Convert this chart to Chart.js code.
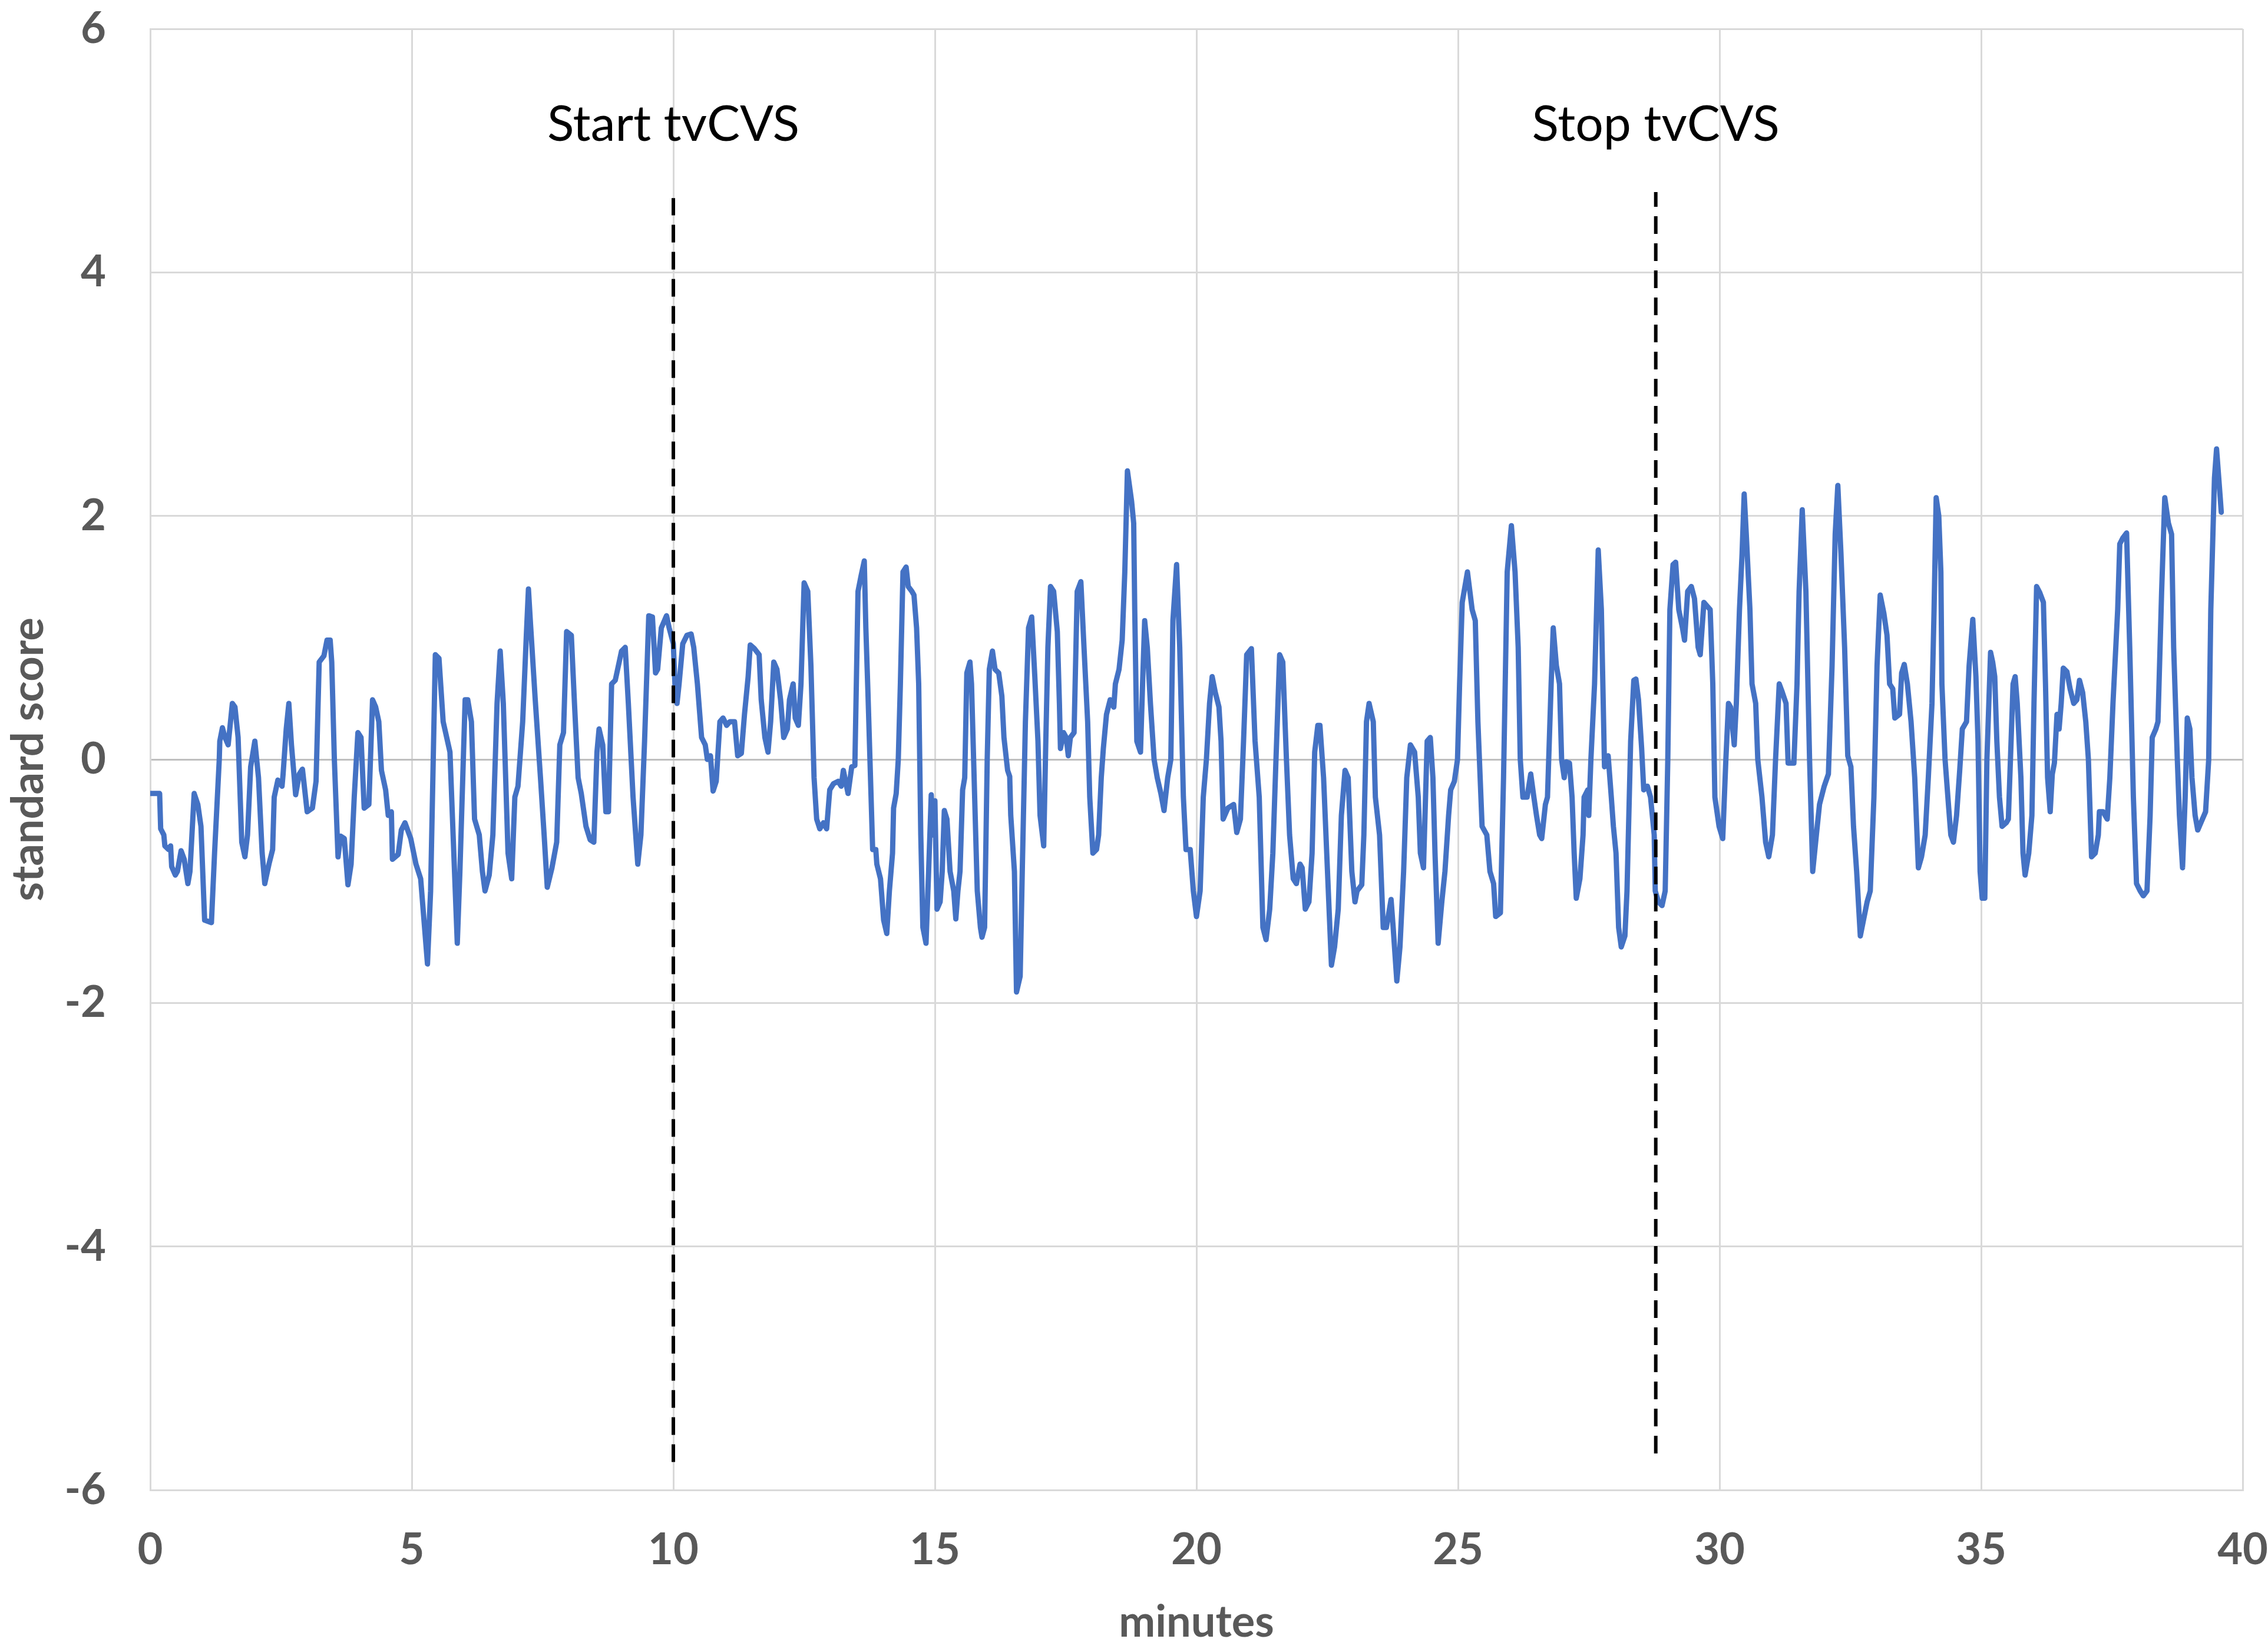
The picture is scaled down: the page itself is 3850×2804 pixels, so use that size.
<!DOCTYPE html>
<html>
<head>
<meta charset="utf-8">
<style>
  html, body { margin: 0; padding: 0; background: #ffffff; }
  #c { display: block; }
</style>
<script src="https://cdn.jsdelivr.net/npm/chart.js@4.4.1/dist/chart.umd.min.js"></script>
</head>
<body>
<canvas id="c" width="3850" height="2804" style="width:3850px;height:2804px"></canvas>
<script>
// ---- data ----
const minutes = [
0.00,0.18,0.20,0.26,0.28,0.35,0.39,0.41,0.48,0.52,0.59,0.65,0.72,0.76,0.84,0.91,0.97,1.04,1.17,1.23,
1.32,1.33,1.38,1.43,1.49,1.57,1.62,1.68,1.75,1.81,1.86,1.92,2.00,2.07,2.14,2.19,2.27,2.34,2.37,2.44,
2.52,2.54,2.60,2.65,2.70,2.78,2.85,2.91,3.00,3.10,3.17,3.23,3.32,3.38,3.44,3.47,3.52,3.59,3.64,3.71,
3.78,3.84,3.90,3.97,4.03,4.09,4.18,4.25,4.31,4.37,4.42,4.50,4.55,4.61,4.63,4.74,4.80,4.87,4.98,5.08,
5.17,5.30,5.36,5.45,5.52,5.60,5.73,5.79,5.87,5.92,6.02,6.07,6.14,6.20,6.29,6.35,6.40,6.48,6.55,6.63,
6.69,6.75,6.84,6.91,6.97,7.03,7.12,7.19,7.23,7.27,7.36,7.46,7.53,7.59,7.68,7.77,7.83,7.90,7.96,8.05,
8.11,8.18,8.24,8.33,8.41,8.48,8.54,8.58,8.65,8.71,8.76,8.82,8.89,8.95,9.01,9.08,9.14,9.23,9.32,9.38,
9.45,9.53,9.60,9.66,9.70,9.77,9.87,9.92,10.00,10.03,10.07,10.11,10.18,10.26,10.34,10.39,10.46,10.54,10.61,10.65,
10.71,10.76,10.82,10.89,10.95,11.02,11.08,11.17,11.23,11.30,11.36,11.43,11.47,11.55,11.64,11.68,11.75,11.81,11.86,11.92,
11.98,12.05,12.11,12.18,12.22,12.29,12.33,12.39,12.44,12.50,12.57,12.63,12.69,12.74,12.80,12.87,12.93,12.99,13.06,13.15,
13.21,13.25,13.34,13.41,13.47,13.53,13.59,13.65,13.68,13.72,13.78,13.81,13.87,13.89,13.96,14.02,14.08,14.13,14.19,14.21,
14.26,14.30,14.34,14.39,14.45,14.49,14.56,14.60,14.65,14.69,14.73,14.77,14.83,14.88,14.93,14.97,15.00,15.04,15.10,15.14,
15.18,15.23,15.29,15.36,15.40,15.44,15.48,15.53,15.57,15.61,15.67,15.70,15.76,15.81,15.87,15.90,15.95,16.00,16.04,16.10,
16.15,16.22,16.28,16.32,16.39,16.43,16.45,16.52,16.56,16.63,16.67,16.73,16.79,16.85,16.91,16.97,17.01,17.08,17.12,17.16,
17.21,17.27,17.34,17.38,17.40,17.46,17.51,17.55,17.59,17.66,17.72,17.79,17.85,17.92,17.96,18.02,18.09,18.13,18.18,18.22,
18.28,18.35,18.42,18.45,18.52,18.58,18.63,18.68,18.76,18.80,18.82,18.86,18.93,18.97,19.01,19.06,19.12,19.19,19.25,19.32,
19.38,19.45,19.51,19.55,19.62,19.68,19.75,19.80,19.88,19.94,20.00,20.07,20.13,20.19,20.25,20.30,20.36,20.43,20.47,20.51,
20.60,20.71,20.77,20.84,20.90,20.96,21.05,21.12,21.20,21.27,21.33,21.40,21.46,21.52,21.59,21.65,21.72,21.78,21.85,21.91,
21.98,22.02,22.08,22.15,22.21,22.26,22.32,22.36,22.43,22.49,22.58,22.64,22.71,22.77,22.84,22.90,22.97,23.03,23.07,23.16,
23.20,23.25,23.30,23.38,23.42,23.50,23.57,23.63,23.72,23.76,23.83,23.89,23.96,24.02,24.09,24.17,24.24,24.28,24.34,24.41,
24.47,24.52,24.56,24.62,24.69,24.75,24.82,24.86,24.93,24.99,25.03,25.08,25.18,25.27,25.33,25.38,25.46,25.55,25.61,25.68,
25.72,25.81,25.87,25.94,26.02,26.09,26.15,26.19,26.24,26.32,26.39,26.45,26.50,26.56,26.60,26.67,26.71,26.78,26.82,26.88,
26.94,26.98,27.03,27.07,27.13,27.18,27.22,27.26,27.33,27.39,27.41,27.48,27.50,27.54,27.61,27.68,27.74,27.80,27.87,27.93,
27.97,28.02,28.07,28.12,28.19,28.23,28.30,28.36,28.40,28.45,28.51,28.55,28.62,28.68,28.75,28.77,28.83,28.90,28.96,29.01,
29.05,29.11,29.16,29.22,29.29,29.33,29.39,29.46,29.52,29.59,29.63,29.70,29.76,29.82,29.87,29.91,29.99,30.06,30.12,30.17,
30.21,30.28,30.32,30.38,30.43,30.47,30.51,30.58,30.62,30.69,30.73,30.81,30.88,30.94,31.01,31.07,31.14,31.20,31.27,31.31,
31.42,31.48,31.52,31.58,31.65,31.72,31.78,31.85,31.91,32.00,32.08,32.15,32.21,32.26,32.32,32.39,32.45,32.51,32.56,32.62,
32.69,32.75,32.82,32.88,32.95,33.01,33.07,33.14,33.20,33.25,33.31,33.35,33.44,33.48,33.53,33.59,33.66,33.73,33.80,33.86,
33.93,33.99,34.06,34.10,34.14,34.19,34.23,34.25,34.31,34.38,34.42,34.47,34.53,34.59,34.64,34.72,34.77,34.84,34.90,34.94,
34.98,35.02,35.07,35.11,35.18,35.22,35.26,35.30,35.35,35.40,35.48,35.52,35.56,35.61,35.65,35.69,35.76,35.80,35.84,35.91,
35.97,36.01,36.06,36.12,36.19,36.23,36.27,36.32,36.36,36.40,36.45,36.49,36.53,36.57,36.64,36.70,36.77,36.83,36.88,36.94,
37.00,37.05,37.11,37.18,37.24,37.26,37.33,37.41,37.46,37.52,37.61,37.65,37.71,37.78,37.84,37.91,37.97,38.04,38.10,38.17,
38.23,38.27,38.34,38.38,38.45,38.51,38.58,38.64,38.68,38.75,38.79,38.85,38.90,38.94,38.99,39.03,39.09,39.14,39.20,39.29,
39.35,39.39,39.46,39.50,39.57,39.59
];
const scores = [
-0.28,-0.28,-0.57,-0.62,-0.71,-0.74,-0.71,-0.88,-0.95,-0.92,-0.75,-0.82,-1.02,-0.92,-0.28,-0.37,-0.55,-1.32,-1.34,-0.77,
0.00,0.15,0.26,0.18,0.12,0.46,0.43,0.18,-0.68,-0.80,-0.62,-0.06,0.15,-0.15,-0.77,-1.02,-0.86,-0.74,-0.31,-0.17,
-0.22,-0.12,0.25,0.46,0.12,-0.29,-0.12,-0.08,-0.43,-0.40,-0.18,0.80,0.85,0.98,0.98,0.80,0.00,-0.80,-0.63,-0.65,
-1.03,-0.86,-0.31,0.22,0.18,-0.40,-0.37,0.49,0.43,0.31,-0.09,-0.25,-0.46,-0.43,-0.82,-0.78,-0.58,-0.52,-0.65,-0.86,
-0.98,-1.68,-1.08,0.86,0.83,0.31,0.06,-0.62,-1.51,-0.92,0.49,0.49,0.31,-0.49,-0.62,-0.92,-1.08,-0.95,-0.62,0.46,
0.89,0.46,-0.77,-0.98,-0.31,-0.22,0.31,1.02,1.40,1.11,0.49,-0.15,-0.62,-1.05,-0.89,-0.68,0.12,0.22,1.05,1.02,
0.46,-0.15,-0.28,-0.55,-0.66,-0.68,0.06,0.25,0.12,-0.43,-0.43,0.62,0.65,0.77,0.89,0.92,0.46,-0.31,-0.86,-0.62,
0.15,1.18,1.17,0.71,0.74,1.08,1.18,1.08,0.95,0.62,0.46,0.62,0.95,1.02,1.03,0.92,0.62,0.18,0.12,0.00,
0.03,-0.26,-0.18,0.31,0.34,0.28,0.31,0.31,0.03,0.05,0.37,0.68,0.94,0.91,0.86,0.49,0.18,0.06,0.31,0.80,
0.74,0.49,0.18,0.25,0.49,0.62,0.34,0.28,0.62,1.45,1.38,0.77,-0.15,-0.49,-0.57,-0.52,-0.57,-0.25,-0.20,-0.18,
-0.22,-0.09,-0.28,-0.06,-0.05,1.38,1.51,1.63,1.08,0.55,-0.31,-0.74,-0.74,-0.86,-0.98,-1.32,-1.43,-1.08,-0.77,-0.40,
-0.28,0.00,0.62,1.54,1.58,1.42,1.38,1.35,1.08,0.62,-0.62,-1.38,-1.51,-0.92,-0.29,-0.62,-0.34,-1.23,-1.17,-0.92,
-0.42,-0.49,-0.92,-1.08,-1.31,-1.08,-0.92,-0.25,-0.15,0.71,0.80,0.62,-0.31,-1.08,-1.38,-1.46,-1.38,0.00,0.74,0.89,
0.74,0.71,0.52,0.18,-0.09,-0.14,-0.46,-0.92,-1.91,-1.78,-0.92,0.31,1.08,1.17,0.68,0.15,-0.46,-0.71,0.15,0.92,
1.42,1.38,1.05,0.46,0.09,0.22,0.18,0.03,0.18,0.22,1.38,1.46,0.92,0.31,-0.31,-0.77,-0.74,-0.62,-0.15,0.09,
0.37,0.49,0.43,0.62,0.74,0.98,1.54,2.37,2.12,1.94,1.23,0.15,0.06,0.62,1.14,0.92,0.46,0.00,-0.15,-0.28,
-0.42,-0.15,0.00,1.14,1.60,0.92,-0.31,-0.74,-0.74,-1.08,-1.29,-1.08,-0.31,0.00,0.46,0.68,0.55,0.43,0.15,-0.49,
-0.40,-0.37,-0.60,-0.49,0.15,0.86,0.91,0.15,-0.31,-1.38,-1.48,-1.23,-0.77,0.00,0.86,0.80,0.00,-0.62,-0.98,-1.02,
-0.86,-0.89,-1.23,-1.17,-0.77,0.06,0.28,0.28,-0.15,-0.77,-1.69,-1.54,-1.23,-0.46,-0.09,-0.15,-0.92,-1.17,-1.08,-1.03,
-0.62,0.31,0.46,0.31,-0.31,-0.62,-1.38,-1.38,-1.15,-1.38,-1.82,-1.54,-0.92,-0.15,0.12,0.06,-0.31,-0.77,-0.89,0.15,
0.18,-0.15,-0.77,-1.51,-1.17,-0.92,-0.46,-0.25,-0.18,0.00,0.62,1.29,1.54,1.23,1.14,0.31,-0.55,-0.62,-0.92,-1.02,
-1.29,-1.26,-0.15,1.54,1.92,1.54,0.92,0.00,-0.31,-0.31,-0.12,-0.31,-0.46,-0.62,-0.65,-0.37,-0.31,0.62,1.08,0.77,
0.62,0.00,-0.15,-0.02,-0.03,-0.31,-0.77,-1.14,-0.98,-0.62,-0.31,-0.25,-0.46,0.00,0.62,1.72,1.23,-0.06,0.03,-0.31,
-0.55,-0.77,-1.38,-1.54,-1.45,-1.08,0.15,0.65,0.66,0.49,0.09,-0.25,-0.22,-0.31,-0.62,-1.08,-1.17,-1.20,-1.08,0.00,
1.23,1.60,1.62,1.23,1.08,0.98,1.38,1.42,1.32,0.92,0.86,1.29,1.26,1.23,0.62,-0.31,-0.55,-0.65,0.00,0.46,
0.43,0.12,0.46,1.23,1.69,2.18,1.85,1.23,0.62,0.46,0.00,-0.31,-0.68,-0.80,-0.62,0.00,0.62,0.55,0.46,-0.03,
-0.03,0.62,1.38,2.05,1.38,0.00,-0.92,-0.62,-0.37,-0.22,-0.12,0.77,1.85,2.25,1.69,0.92,0.03,-0.06,-0.55,-0.92,
-1.45,-1.32,-1.17,-1.08,-0.31,0.77,1.35,1.20,1.02,0.62,0.58,0.34,0.37,0.71,0.78,0.62,0.31,-0.15,-0.89,-0.80,
-0.62,-0.15,0.46,1.23,2.15,2.00,1.54,0.62,0.00,-0.40,-0.62,-0.68,-0.46,-0.09,0.25,0.31,0.77,1.15,0.68,0.15,
-0.92,-1.14,-1.14,0.00,0.88,0.80,0.68,0.15,-0.31,-0.55,-0.52,-0.49,0.00,0.62,0.68,0.46,-0.15,-0.77,-0.95,-0.77,
-0.46,0.46,1.42,1.37,1.29,0.62,-0.15,-0.43,-0.12,-0.03,0.37,0.25,0.46,0.75,0.72,0.58,0.46,0.49,0.65,0.55,
0.31,0.00,-0.80,-0.77,-0.62,-0.43,-0.43,-0.49,-0.15,0.46,1.23,1.77,1.82,1.86,0.92,-0.31,-1.02,-1.08,-1.12,-1.08,
-0.46,0.18,0.25,0.31,1.38,2.15,1.94,1.85,0.92,0.00,-0.46,-0.89,-0.31,0.34,0.25,-0.15,-0.46,-0.58,-0.52,-0.43,
0.00,1.23,2.31,2.55,2.15,2.03
];

// event markers
const markerLabels = ['Start tvCVS', 'Stop tvCVS'];
const markerMinutes = [10, 28.78];
const markerBottoms = [-5.77, -5.70];
const markerTops = [4.61, 4.66];
const markerLabelY = 5.21;

// axes
const xTicks = [0, 5, 10, 15, 20, 25, 30, 35, 40];
const yTicks = [-6, -4, -2, 0, 2, 4, 6];
const xTitle = 'minutes';
const yTitle = 'standard score';

const FONT = 'Lato, "Open Sans", "DejaVu Sans", sans-serif';
const CLEAR = 'rgba(0,0,0,0)';

function build() {
  const series = minutes.map((m, i) => ({ x: m, y: scores[i] }));
  const datasets = [{
    data: series,
    borderColor: '#4472C4',
    borderWidth: 9,
    pointRadius: 0,
    tension: 0,
    fill: false,
    borderJoinStyle: 'round',
    borderCapStyle: 'round',
    order: 1
  }];
  markerMinutes.forEach((m, i) => {
    datasets.push({
      data: [{ x: m, y: markerBottoms[i] }, { x: m, y: markerTops[i] }],
      borderColor: '#000000',
      borderWidth: 6,
      borderDash: [30, 16],
      pointRadius: 0,
      fill: false,
      order: 0
    });
  });

  const labelPlugin = {
    id: 'markerLabels',
    afterDatasetsDraw(chart) {
      const { ctx, scales } = chart;
      ctx.save();
      ctx.fillStyle = '#000000';
      ctx.font = '400 84px ' + FONT;
      ctx.textAlign = 'center';
      ctx.textBaseline = 'middle';
      markerLabels.forEach((t, i) => {
        ctx.fillText(t, scales.x.getPixelForValue(markerMinutes[i]), scales.y.getPixelForValue(markerLabelY));
      });
      ctx.restore();
    }
  };
  const bgPlugin = {
    id: 'bg',
    beforeDraw(chart) {
      const { ctx } = chart;
      ctx.save();
      ctx.fillStyle = '#ffffff';
      ctx.fillRect(0, 0, chart.width, chart.height);
      ctx.restore();
    }
  };

  new Chart(document.getElementById('c'), {
    type: 'line',
    data: { datasets },
    plugins: [bgPlugin, labelPlugin],
    options: {
      responsive: false,
      devicePixelRatio: 1,
      animation: false,
      layout: { padding: { left: 0, right: 40, top: 49, bottom: 0 } },
      plugins: { legend: { display: false }, tooltip: { enabled: false } },
      scales: {
        x: {
          type: 'linear',
          min: 0, max: 40,
          afterBuildTicks(s) { s.ticks = xTicks.map(v => ({ value: v })); },
          afterFit(s) { s.height = 275; },
          grid: { color: '#d9d9d9', lineWidth: 3, drawTicks: true, tickLength: 58, tickColor: CLEAR },
          border: { color: '#d9d9d9', width: 3 },
          ticks: {
            color: '#595959', padding: 0,
            font: { family: FONT, size: 74, weight: 'bold' },
            maxRotation: 0
          },
          title: {
            display: true, text: xTitle, color: '#595959',
            font: { family: FONT, size: 74, weight: 'bold' },
            padding: { top: 0, bottom: 5 }
          }
        },
        y: {
          type: 'linear',
          min: -6, max: 6,
          afterBuildTicks(s) { s.ticks = yTicks.map(v => ({ value: v })); },
          afterFit(s) { s.width = 255; },
          grid: {
            color: (c) => (c.tick && c.tick.value === 0 ? '#bfbfbf' : '#d9d9d9'),
            lineWidth: 3, drawTicks: true, tickLength: 75, tickColor: CLEAR
          },
          border: { color: '#d9d9d9', width: 3 },
          ticks: {
            color: '#595959', padding: 0,
            font: { family: FONT, size: 74, weight: 'bold' }
          },
          title: {
            display: true, text: yTitle, color: '#595959',
            font: { family: FONT, size: 74, weight: 'bold' },
            padding: { top: 5, bottom: 0 }
          }
        }
      }
    }
  });
}

Promise.all([
  document.fonts.load('bold 74px Lato'),
  document.fonts.load('400 84px Lato')
]).then(build, build);
</script>
</body>
</html>
